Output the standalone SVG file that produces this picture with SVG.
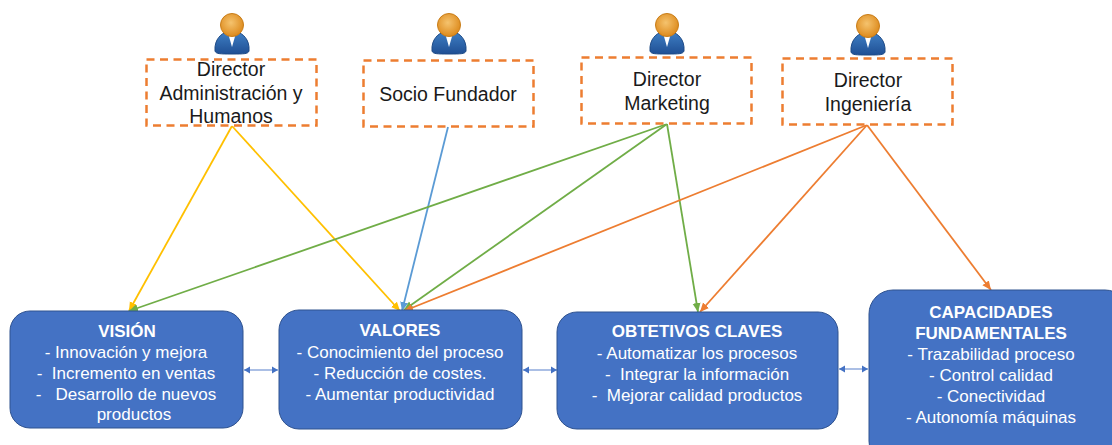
<svg xmlns="http://www.w3.org/2000/svg" width="1112" height="445" viewBox="0 0 1112 445">
<style>
text{font-family:"Liberation Sans",Arial,sans-serif;text-anchor:middle;white-space:pre}
.d{fill:#fff;stroke:#ed7d31;stroke-width:2.5;stroke-dasharray:8 5.5}
.dt{font-size:19.500px;fill:#1a1a1a}
.b{fill:#4472c4;stroke:#2f528f;stroke-width:1}
.bt{font-size:17px;fill:#fff}
.h{font-weight:bold}
.c{fill:none;stroke-width:1.8}
.y{stroke:#ffc000}.u{stroke:#5b9bd5}.g{stroke:#70ad47}.o{stroke:#ed7d31}
.l{stroke:#8faadc;stroke-width:1.500;fill:none;marker-start:url(#ab);marker-end:url(#ab)}
</style>
<defs>
<marker id="ay" markerUnits="userSpaceOnUse" markerWidth="10" markerHeight="10" refX="9" refY="5" orient="auto"><path d="M0 1 9 5 0 9z" fill="#ffc000"/></marker>
<marker id="au" markerUnits="userSpaceOnUse" markerWidth="10" markerHeight="10" refX="9" refY="5" orient="auto"><path d="M0 1 9 5 0 9z" fill="#5b9bd5"/></marker>
<marker id="ag" markerUnits="userSpaceOnUse" markerWidth="10" markerHeight="10" refX="9" refY="5" orient="auto"><path d="M0 1 9 5 0 9z" fill="#70ad47"/></marker>
<marker id="ao" markerUnits="userSpaceOnUse" markerWidth="10" markerHeight="10" refX="9" refY="5" orient="auto"><path d="M0 1 9 5 0 9z" fill="#ed7d31"/></marker>
<marker id="ab" markerUnits="userSpaceOnUse" markerWidth="8" markerHeight="8" refX="6" refY="4" orient="auto-start-reverse"><path d="M0 .5 6 4 0 7.500z" fill="#4472c4"/></marker>
<radialGradient id="hd" cx=".45" cy=".4" r=".6"><stop offset="0" stop-color="#f5c36e"/><stop offset="1" stop-color="#dd8a1c"/></radialGradient>
<linearGradient id="bd" x1="0" y1="0" x2="0" y2="1"><stop offset="0" stop-color="#3f7fc4"/><stop offset="1" stop-color="#1f4f94"/></linearGradient>
<g id="p">
<path d="M-17 26C-18 14-10 8-5 7L5 7C10 8 18 14 17 26 16 29 12 29 0 29-12 29-16 29-17 26z" fill="url(#bd)" stroke="#1d4a86"/>
<path d="M-4 8 0 22 4 8z" fill="#fff"/>
<circle r="11.500" fill="url(#hd)" stroke="#c97d18" stroke-width="1"/>
</g>
</defs>
<g id="connectors">
<path class="c y" marker-end="url(#ay)" d="M232 126 129 311"/>
<path class="c y" marker-end="url(#ay)" d="M232 126 400 311"/>
<path class="c u" marker-end="url(#au)" d="M448 127 402 311"/>
<path class="c g" marker-end="url(#ag)" d="M667 124 129 311"/>
<path class="c g" marker-end="url(#ag)" d="M667 124 404 310"/>
<path class="c g" marker-end="url(#ag)" d="M667 124 698 312"/>
<path class="c o" marker-end="url(#ao)" d="M867 125 404 311"/>
<path class="c o" marker-end="url(#ao)" d="M867 125 700 312"/>
<path class="c o" marker-end="url(#ao)" d="M867 125 991 290"/>
<path class="l" d="M244 370H278"/>
<path class="l" d="M523 370H557"/>
<path class="l" d="M839 369H868"/>
</g>
<g id="n1"><use href="#p" x="232" y="25"/><rect class="d" x="146.500" y="59.500" width="170" height="66"/><text class="dt" x="231" y="76">Director</text><text class="dt" x="231" y="100">Administración y</text><text class="dt" x="231" y="123">Humanos</text></g>
<g id="n2"><use href="#p" x="449" y="25"/><rect class="d" x="363.500" y="60.500" width="170" height="66"/><text class="dt" x="448" y="101">Socio Fundador</text></g>
<g id="n3"><use href="#p" x="667" y="25"/><rect class="d" x="581.500" y="57.500" width="170" height="66"/><text class="dt" x="667" y="86">Director</text><text class="dt" x="667" y="110">Marketing</text></g>
<g id="n4"><use href="#p" x="868" y="26"/><rect class="d" x="782.500" y="58.500" width="170" height="66"/><text class="dt" x="868" y="87">Director</text><text class="dt" x="868" y="111">Ingeniería</text></g>
<g id="vision"><rect class="b" x="10" y="311" width="233" height="117" rx="20"/><text class="bt h" x="127" y="337">VISIÓN</text><text class="bt" x="126" y="358">- Innovación y mejora</text><text class="bt" x="126" y="379">-  Incremento en ventas</text><text class="bt" x="126" y="400">-   Desarrollo de nuevos</text><text class="bt" x="134" y="420">productos</text></g>
<g id="valores"><rect class="b" x="279" y="310" width="243" height="119" rx="20"/><text class="bt h" x="400" y="336">VALORES</text><text class="bt" x="400" y="358">- Conocimiento del proceso</text><text class="bt" x="400" y="379">- Reducción de costes.</text><text class="bt" x="400" y="400">- Aumentar productividad</text></g>
<g id="objetivos"><rect class="b" x="557" y="312" width="281" height="117" rx="20"/><text class="bt h" x="697" y="337">OBTETIVOS CLAVES</text><text class="bt" x="697" y="359">- Automatizar los procesos</text><text class="bt" x="697" y="380">-  Integrar la información</text><text class="bt" x="697" y="401">-  Mejorar calidad productos</text></g>
<g id="capacidades"><rect class="b" x="869" y="290" width="260" height="175" rx="24"/><text class="bt h" x="991" y="318">CAPACIDADES</text><text class="bt h" x="991" y="339">FUNDAMENTALES</text><text class="bt" x="991" y="360">- Trazabilidad proceso</text><text class="bt" x="991" y="381">- Control calidad</text><text class="bt" x="991" y="402">- Conectividad</text><text class="bt" x="991" y="423">- Autonomía máquinas</text></g>
</svg>
